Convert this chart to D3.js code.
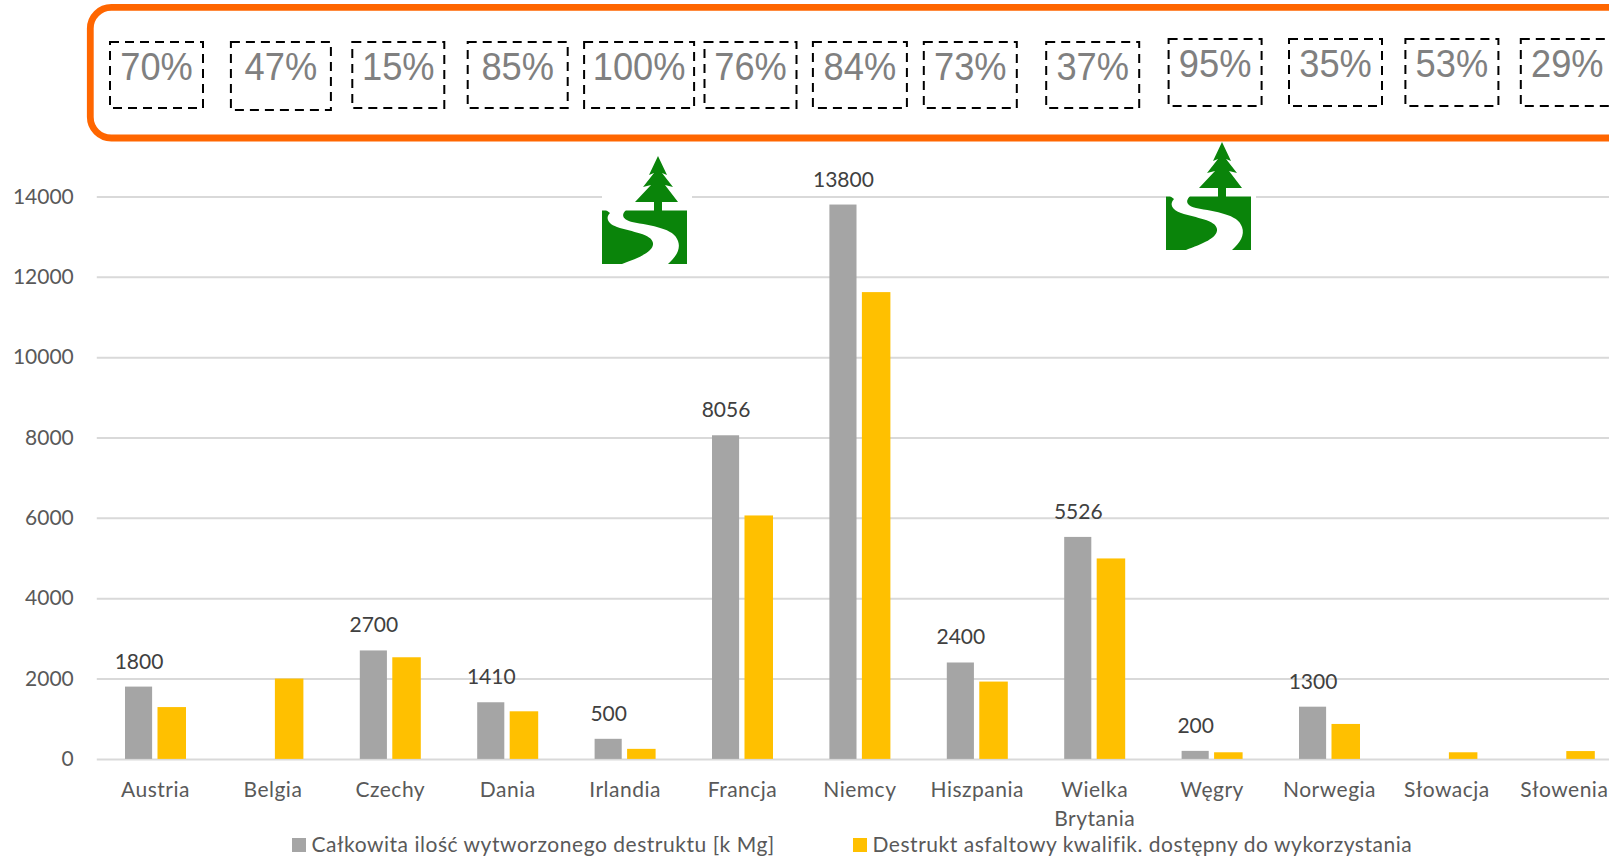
<!DOCTYPE html>
<html>
<head>
<meta charset="utf-8">
<script src="https://cdnjs.cloudflare.com/ajax/libs/d3/7.8.5/d3.min.js"></script>
<style>
html, body { margin: 0; padding: 0; background: #fff; overflow: hidden; }
svg { display: block; }
text { font-family: Lato, sans-serif; }
</style>
</head>
<body>
<svg width="1609" height="858"></svg>
<script>
var categories = ["Austria", "Belgia", "Czechy", "Dania", "Irlandia", "Francja", "Niemcy", "Hiszpania", "Wielka Brytania", "Węgry", "Norwegia", "Słowacja", "Słowenia"];
var totalValues = [1800, null, 2700, 1410, 500, 8056, 13800, 2400, 5526, 200, 1300, null, null];
var usableValues = [1290, 2000, 2530, 1185, 250, 6060, 11620, 1925, 4990, 165, 870, 165, 195];
var percentLabels = ["70%", "47%", "15%", "85%", "100%", "76%", "84%", "73%", "37%", "95%", "35%", "53%", "29%"];
var seriesNames = ["Całkowita ilość wytworzonego destruktu [k Mg]", "Destrukt asfaltowy kwalifik. dostępny do wykorzystania"];
var yTicks = [0, 2000, 4000, 6000, 8000, 10000, 12000, 14000];

// the dashed boxes were placed by hand in the original, so they sit a bit off the bars
var boxNudge = [1, 8, 8, 10, 14, 8, 0, -7, -2, 3, 6, 5, 3];
var boxWidth = [93, 100, 92, 100, 110, 92, 94, 93, 93, 93, 93, 93, 93];
var boxTop = [42, 42, 42, 42, 42, 42, 42, 42, 42, 39, 39, 39, 39];
var boxHeight = [66, 68, 66, 66, 66, 66, 66, 66, 66, 67, 67, 67, 67];

var svg = d3.select("svg"),
    width = +svg.attr("width"),
    height = +svg.attr("height"),
    color = ["#a5a5a5", "#ffc000"];

var x = d3.scaleBand().domain(categories).range([96.8, 1623]);
var xInner = d3.scaleBand().domain([0, 1]).range([-30.5, 30.5]).paddingInner(0.2);
var y = d3.scaleLinear().domain([0, 14000]).range([758.9, 196.5]);
var orangeExtra = 1.4; // yellow bars are a little wider than the grey ones

function center(c) { return x(c) + x.bandwidth() / 2; }

// gridlines and y labels
var yAxis = svg.append("g")
    .attr("transform", "translate(96.8,0)")
    .call(d3.axisLeft(y).tickValues(yTicks).tickSize(-(width - 96.8)).tickPadding(23).tickFormat(d3.format("d")));
yAxis.select(".domain").remove();
yAxis.selectAll("line").attr("stroke", "#d9d9d9").attr("stroke-width", 2);
yAxis.selectAll("text").attr("fill", "#595959").style("font-size", "21px").style("font-family", "Lato, sans-serif");

// bars
[totalValues, usableValues].forEach(function(values, s) {
  svg.append("g").selectAll("rect")
    .data(values.map(function(v, i) { return {c: categories[i], v: v}; }).filter(function(d) { return d.v !== null; }))
    .enter().append("rect")
    .attr("x", function(d) { return center(d.c) + xInner(s) - (s ? orangeExtra : 0); })
    .attr("y", function(d) { return y(d.v); })
    .attr("width", xInner.bandwidth() + (s ? orangeExtra : 0))
    .attr("height", function(d) { return y(0) - y(d.v); })
    .attr("fill", color[s]);
});

// data labels, only the grey series has them
svg.append("g").selectAll("text")
  .data(totalValues.map(function(v, i) { return {c: categories[i], v: v}; }).filter(function(d) { return d.v !== null; }))
  .enter().append("text")
  .attr("x", function(d) { return center(d.c) + xInner(0) + xInner.bandwidth() / 2 + 0.5; })
  .attr("y", function(d) { return y(d.v) - 18; })
  .attr("text-anchor", "middle")
  .attr("fill", "#404040")
  .style("font-size", "21px")
  .text(function(d) { return d.v; });

// category labels
var xLabels = svg.append("g").selectAll("text")
  .data(categories)
  .enter().append("text")
  .attr("text-anchor", "middle")
  .attr("fill", "#595959")
  .style("font-size", "21px")
  .style("letter-spacing", "0.5px")
  .attr("transform", function(d) { return "translate(" + center(d) + ",796.7)"; });
xLabels.each(function(d) {
  var words = d.split(" ");
  d3.select(this).selectAll("tspan").data(words).enter().append("tspan")
    .attr("x", 0)
    .attr("dy", function(w, i) { return i ? 29 : 0; })
    .text(function(w) { return w; });
});

// legend
var legendX = [292, 853];
seriesNames.forEach(function(name, s) {
  svg.append("rect").attr("x", legendX[s]).attr("y", 838).attr("width", 14).attr("height", 14).attr("fill", color[s]);
  svg.append("text").attr("x", legendX[s] + 19.5).attr("y", 851.7)
    .attr("fill", "#595959").style("font-size", "21px").style("letter-spacing", "0.53px").text(name);
});

// tree and road logo, drawn in a local box, origin at left of the green ground
function logo(px, py) {
  var g = svg.append("g").attr("transform", "translate(" + px + "," + py + ")");
  g.append("rect").attr("x", 0).attr("y", -61).attr("width", 90).attr("height", 117).attr("fill", "#fff");
  g.append("rect").attr("x", 0).attr("y", 2.5).attr("width", 85).attr("height", 53.5).attr("fill", "#0a840a");
  g.append("path").attr("fill", "#0a840a")
    .attr("d", "M56,-52 L65,-33 L60,-35 L71,-21 L63,-23 L76,-6 L60,-6 L60,3 L52,3 L52,-6 L33,-6 L49,-23 L41,-21 L52,-35 L47,-33 Z");
  g.append("path").attr("fill", "#fff")
    .attr("d", "M4,2 L24,2 C18,8 22,12 30,14 C50,18 72,20 76,33 C79,41 74,49 66,56 L20,56 C36,50 52,44 51,35 C50,26 30,24 15,19 C6,16 3,10 8,5 Z");
}
logo(602, 208);
logo(1166, 194);

// orange frame and the percentages
svg.append("rect")
  .attr("x", 90.3).attr("y", 7.4)
  .attr("width", 1600).attr("height", 130.6)
  .attr("rx", 21).attr("ry", 21)
  .attr("fill", "none").attr("stroke", "#ff6600").attr("stroke-width", 6.8);

var boxes = svg.append("g").selectAll("g")
  .data(categories)
  .enter().append("g")
  .attr("transform", function(d, i) { return "translate(" + (center(d) + boxNudge[i]) + "," + boxTop[i] + ")"; });
boxes.append("rect")
  .attr("x", function(d, i) { return -boxWidth[i] / 2; })
  .attr("width", function(d, i) { return boxWidth[i]; })
  .attr("height", function(d, i) { return boxHeight[i]; })
  .attr("fill", "none").attr("stroke", "#000").attr("stroke-width", 2).attr("stroke-dasharray", "9 6");
boxes.append("text")
  .attr("transform", "translate(0,37.5) scale(0.93,1)")
  .attr("text-anchor", "middle")
  .attr("fill", "#808080")
  .style("font-family", "'Liberation Sans', Arial, sans-serif")
  .style("font-size", "39px")
  .text(function(d, i) { return percentLabels[i]; });
</script>
</body>
</html>
